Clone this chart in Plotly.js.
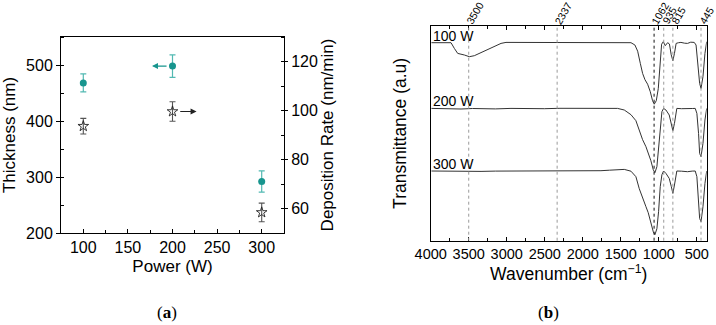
<!DOCTYPE html>
<html>
<head>
<meta charset="utf-8">
<script src="https://cdn.plot.ly/plotly-3.0.1.min.js"></script>
<style>
  html, body { margin: 0; padding: 0; background: #fff; }
  #chart { width: 716px; height: 325px; }
</style>
</head>
<body>
<div id="chart"></div>
<script>
// ---- (a) film thickness and deposition rate vs. RF power ----
const power = [100, 200, 300];
const thickness = [468, 498, 292];
const thicknessErr = [16, 20, 19];
const depRate = [93.6, 99.6, 58.4];
const depRateErr = [3.2, 4.0, 3.8];

// ---- (b) FTIR spectra (offset for clarity) ----
const wn100 = [3990, 3733, 3689, 3645, 3557, 3492, 3426, 3338, 3251, 3163, 3075, 3010, 2725, 2500, 2287, 2050, 1848, 1586, 1450, 1366, 1314, 1278, 1243, 1213, 1182, 1147, 1112, 1082, 1060, 1033, 1007, 985, 963, 941, 915, 884, 860, 837, 815, 794, 772, 740, 709, 660, 622, 580, 534, 510, 489, 463, 445, 419, 393, 370];
const t100 = [198.0, 198.0, 192.3, 187.3, 185.7, 184.0, 185.0, 188.0, 191.3, 194.7, 197.3, 198.3, 198.3, 198.0, 198.7, 198.2, 198.3, 198.7, 198.4, 198.0, 195.7, 189.5, 177.3, 167.3, 161.0, 156.5, 149.0, 140.0, 136.5, 140.0, 152.0, 176.0, 196.5, 199.0, 195.0, 198.0, 196.7, 186.0, 180.0, 187.3, 197.3, 198.0, 198.3, 197.5, 197.3, 198.5, 198.3, 195.7, 177.3, 157.3, 152.3, 164.0, 187.3, 199.0];

const wnLow = [3990, 3800, 3601, 3450, 3338, 3150, 2944, 2750, 2506, 2300, 2068, 1900, 1761, 1650, 1542, 1454, 1366, 1301, 1257, 1213, 1169, 1139, 1104, 1073, 1051, 1025, 1003, 981, 959, 937, 906, 863, 835, 815, 794, 776, 763, 700, 622, 560, 521, 499, 477, 463, 445, 419, 393, 370];
const t200 = [132.3, 132.0, 131.7, 132.2, 132.0, 131.8, 132.3, 132.0, 132.0, 132.4, 132.3, 132.5, 132.7, 132.4, 132.3, 130.7, 126.0, 120.0, 110.0, 101.0, 94.0, 88.0, 80.0, 71.0, 68.0, 74.0, 92.0, 116.0, 129.0, 132.3, 130.7, 125.7, 117.3, 110.0, 117.3, 129.0, 132.3, 132.0, 131.7, 132.2, 132.3, 127.3, 107.3, 87.3, 84.0, 97.3, 120.7, 132.3];
const t300 = [69.7, 69.4, 69.0, 69.5, 69.3, 69.6, 69.7, 69.4, 69.3, 69.6, 69.7, 69.8, 70.0, 70.5, 71.0, 71.3, 69.5, 64.0, 52.0, 42.0, 34.0, 28.0, 18.0, 9.0, 6.0, 12.0, 29.0, 54.0, 66.0, 69.7, 67.3, 62.3, 54.0, 47.3, 55.7, 67.3, 69.7, 69.5, 69.0, 69.6, 69.7, 64.0, 40.7, 22.3, 19.0, 34.0, 57.3, 69.7];

const spectraLabels = ['100 W', '200 W', '300 W'];
const peakPositions = [3500, 2337, 1062, 935, 815, 445];
const peakLabels = ['3500', '2337', '1062', '935', '815', '445'];

const TEAL = '#17958e';
const TEAL_ERR = '#52b9b2';
const INK = '#222';
const SANS = 'Arial, Liberation Sans, sans-serif';
const SERIF = 'Liberation Serif, DejaVu Serif, serif';

const traces = [
  {
    x: power, y: thickness, type: 'scatter', mode: 'markers',
    xaxis: 'x', yaxis: 'y',
    marker: { symbol: 'circle', size: 7, color: TEAL },
    error_y: { type: 'data', array: thicknessErr, visible: true, color: TEAL_ERR, thickness: 1.2, width: 3 }
  },
  {
    x: power, y: depRate, type: 'scatter', mode: 'markers',
    xaxis: 'x', yaxis: 'y2',
    marker: { symbol: 'star-open', size: 8, color: INK, line: { width: 0.9, color: INK } },
    error_y: { type: 'data', array: depRateErr, visible: true, color: '#555', thickness: 1.1, width: 3 }
  },
  { x: wn100, y: t100, type: 'scatter', mode: 'lines', xaxis: 'x2', yaxis: 'y3', line: { color: '#333', width: 1 } },
  { x: wnLow, y: t200, type: 'scatter', mode: 'lines', xaxis: 'x2', yaxis: 'y3', line: { color: '#333', width: 1 } },
  { x: wnLow, y: t300, type: 'scatter', mode: 'lines', xaxis: 'x2', yaxis: 'y3', line: { color: '#333', width: 1 } }
];

// dotted guides at the assigned absorption bands
const shapes = peakPositions.map(p => ({
  type: 'line', xref: 'x2', yref: 'y3 domain', x0: p, x1: p, y0: 0, y1: 1,
  line: { color: p === 1062 ? '#111' : '#9a9a9a', width: 1, dash: 'dot' }
}));

const annotations = [];
// band labels above the FTIR frame
peakPositions.forEach((p, i) => {
  annotations.push({
    xref: 'x2', yref: 'y3 domain', x: p, y: 1, xanchor: 'center', yanchor: 'bottom',
    text: peakLabels[i], showarrow: false, textangle: -60, xshift: 6, yshift: -3,
    font: { family: SANS, size: 10.5, color: '#000' }
  });
});
// series labels at the left end of each spectrum
[t100, t200, t300].forEach((t, i) => {
  annotations.push({
    xref: 'x2', yref: 'y3', x: 4000, y: t[0], xanchor: 'left', yanchor: 'bottom',
    text: spectraLabels[i], showarrow: false, yshift: -3, xshift: 0,
    font: { family: SANS, size: 14, color: '#000' }
  });
});
// arrows pointing each series to its own axis
annotations.push({
  xref: 'x', yref: 'y', x: 177, y: thickness[1], axref: 'x', ayref: 'y', ax: 195, ay: thickness[1],
  text: '', showarrow: true, arrowhead: 2, arrowsize: 1, arrowwidth: 1.2, arrowcolor: TEAL
});
annotations.push({
  xref: 'x', yref: 'y2', x: 227, y: depRate[1], axref: 'x', ayref: 'y2', ax: 207, ay: depRate[1],
  text: '', showarrow: true, arrowhead: 2, arrowsize: 1, arrowwidth: 1.2, arrowcolor: INK
});
// panel captions
annotations.push({
  xref: 'paper', yref: 'paper', x: 167 / 716, y: 1 - 312 / 325, xanchor: 'center', yanchor: 'middle',
  text: '(<b>a</b>)', showarrow: false, font: { family: SERIF, size: 17, color: '#000' }
});
annotations.push({
  xref: 'paper', yref: 'paper', x: 548 / 716, y: 1 - 312 / 325, xanchor: 'center', yanchor: 'middle',
  text: '(<b>b</b>)', showarrow: false, font: { family: SERIF, size: 17, color: '#000' }
});

const frame = { showline: true, linecolor: '#000', linewidth: 1, showgrid: false, zeroline: false };

const layout = {
  width: 716, height: 325,
  margin: { l: 0, r: 0, t: 0, b: 0 },
  paper_bgcolor: '#fff', plot_bgcolor: '#fff',
  showlegend: false,
  font: { family: SANS, color: '#000' },
  xaxis: Object.assign({}, frame, {
    domain: [61 / 716, 284 / 716], anchor: 'y', range: [75, 325],
    tick0: 0, dtick: 50, ticks: 'inside', ticklen: 4, tickcolor: '#000', mirror: true,
    minor: { dtick: 25, ticks: 'inside', ticklen: 3, tickcolor: '#000' },
    tickfont: { size: 16 },
    title: { text: 'Power (W)', font: { size: 17 }, standoff: 4 }
  }),
  yaxis: Object.assign({}, frame, {
    domain: [1 - 233 / 325, 1 - 37 / 325], anchor: 'x', range: [200, 550],
    tick0: 0, dtick: 100, ticks: 'outside', ticklen: 4, tickcolor: '#000',
    minor: { dtick: 50, ticks: 'inside', ticklen: 3, tickcolor: '#000' },
    tickfont: { size: 16 },
    title: { text: 'Thickness (nm)', font: { size: 17 }, standoff: 6 }
  }),
  yaxis2: Object.assign({}, frame, {
    overlaying: 'y', side: 'right', anchor: 'x', range: [50, 130],
    tick0: 0, dtick: 20, ticks: 'outside', ticklen: 3, tickcolor: '#000',
    minor: { dtick: 10, ticks: 'inside', ticklen: 3, tickcolor: '#000' },
    tickfont: { size: 16 },
    title: { text: 'Deposition Rate (nm/min)', font: { size: 17 }, standoff: 4 }
  }),
  xaxis2: Object.assign({}, frame, {
    domain: [430.7 / 716, 706.7 / 716], anchor: 'y3', range: [4000, 370],
    tick0: 0, dtick: 500, ticks: 'inside', ticklen: 4, tickcolor: '#000', mirror: 'allticks',
    minor: { dtick: 250, ticks: 'inside', ticklen: 3, tickcolor: '#000' },
    tickfont: { size: 14.5 },
    title: { text: 'Wavenumber (cm<sup>\u22121</sup>)', font: { size: 17.5 }, standoff: 6 }
  }),
  yaxis3: Object.assign({}, frame, {
    domain: [1 - 240.7 / 325, 1 - 26 / 325], anchor: 'x2', range: [0, 214.7],
    mirror: true, ticks: '', showticklabels: false,
    title: { text: 'Transmittance (a.u)', font: { size: 17.5 }, standoff: 18 }
  }),
  shapes: shapes,
  annotations: annotations
};

Plotly.newPlot('chart', traces, layout, { staticPlot: true, displayModeBar: false });
</script>
</body>
</html>
